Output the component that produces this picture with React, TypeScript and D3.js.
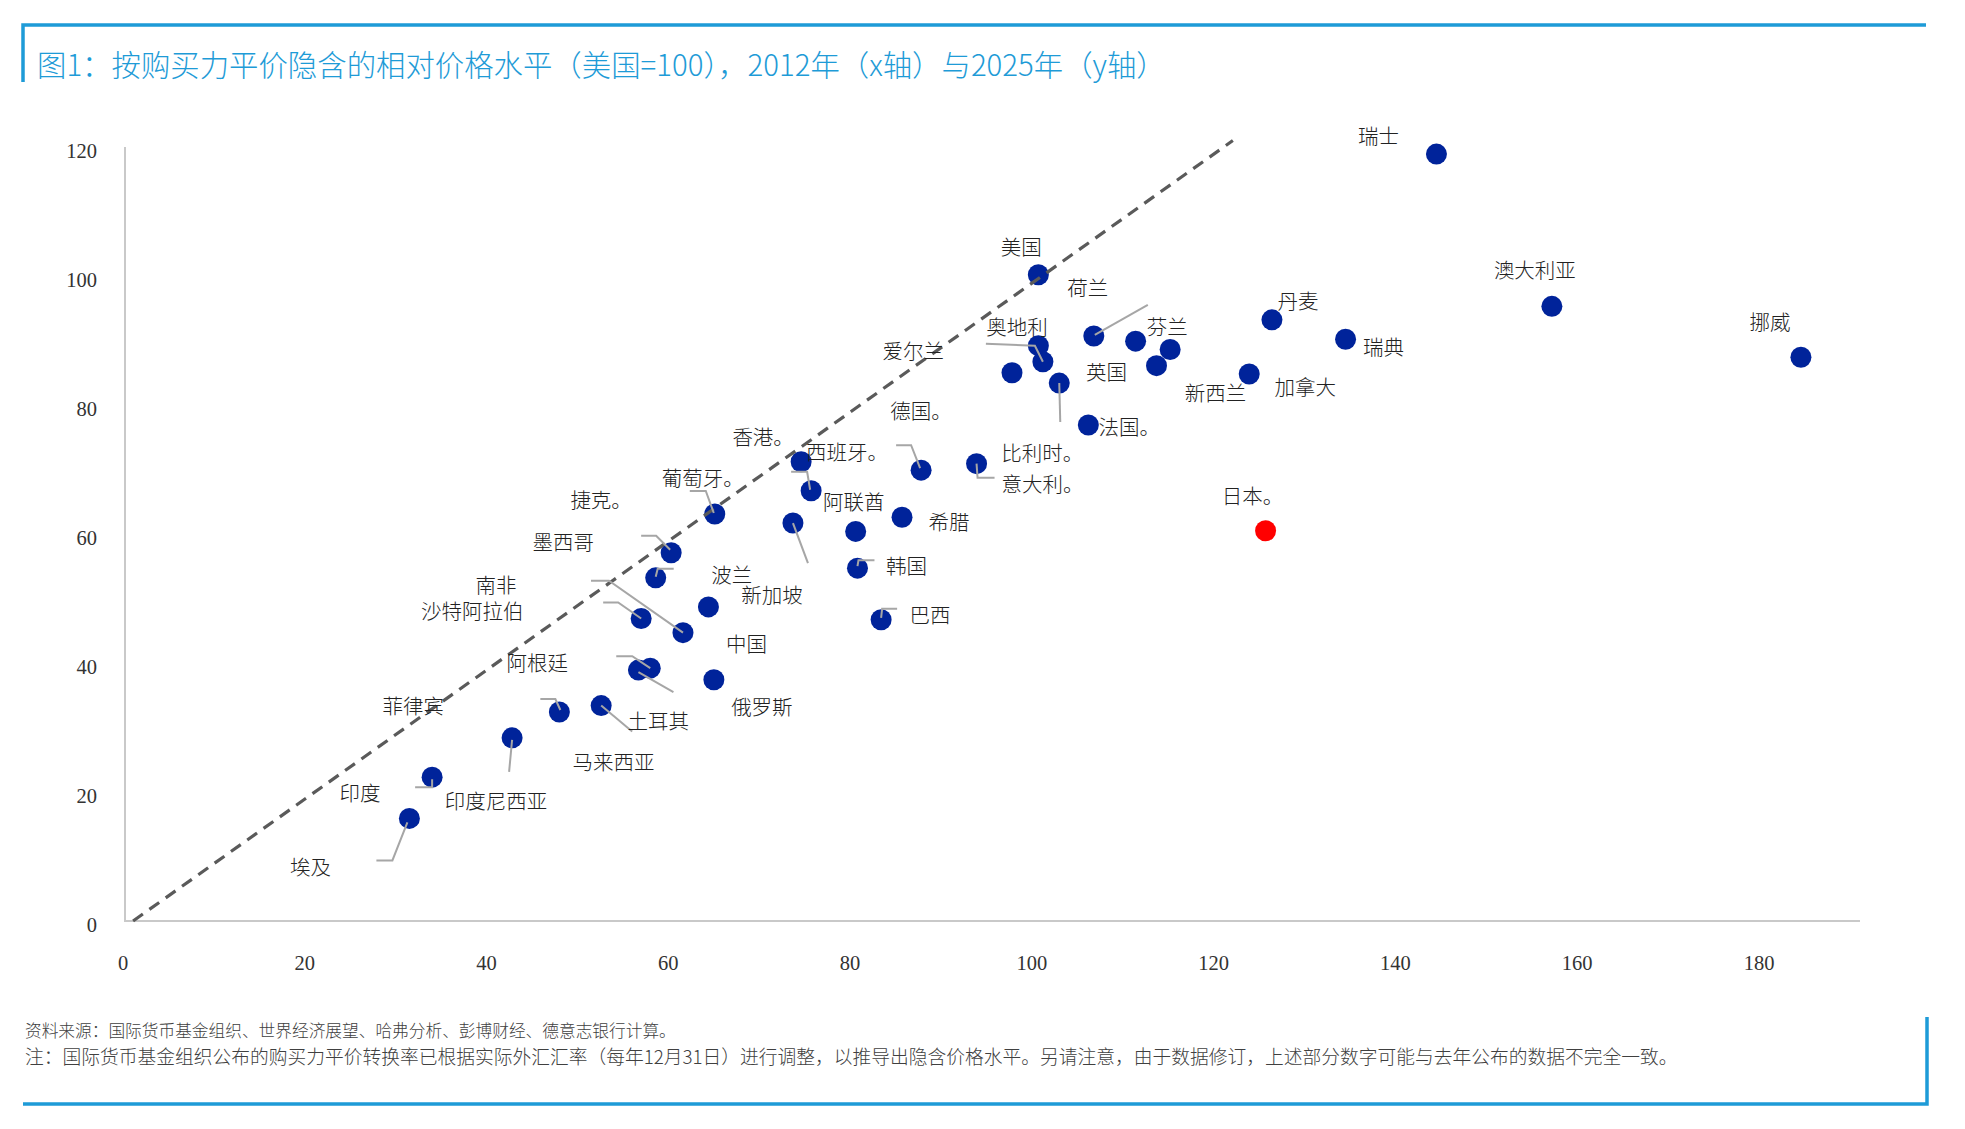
import React from 'react'
import * as d3 from 'd3'

// 标签文字（含原图中的“。”）
const countries = [
  '瑞士', '澳大利亚', '挪威', '丹麦', '瑞典', '加拿大', '日本。', '美国',
  '荷兰', '英国', '芬兰', '新西兰', '爱尔兰', '奥地利', '德国。', '比利时。',
  '法国。', '意大利。', '西班牙。', '香港。', '捷克。', '葡萄牙。', '新加坡', '阿联酋',
  '希腊', '韩国', '墨西哥', '波兰', '中国', '沙特阿拉伯', '南非', '巴西',
  '马来西亚', '阿根廷', '俄罗斯', '土耳其', '菲律宾', '印度尼西亚', '印度', '埃及'
]

// x: 2012年价格水平（美国=100）
const price2012 = [
  144.4, 157.1, 184.5, 126.3, 134.4, 123.8, 125.6, 100.6,
  106.7, 111.3, 115.1, 113.6, 100.6, 101.1, 97.7, 102.9,
  106.1, 93.8, 87.7, 74.5, 75.6, 65.0, 73.6, 80.5,
  85.6, 80.7, 60.2, 58.5, 64.3, 56.9, 61.5, 83.3,
  56.6, 57.9, 64.9, 52.5, 47.9, 42.7, 33.9, 31.4
]

// y: 2025年价格水平（美国=100）
const price2025 = [
  118.9, 95.3, 87.4, 93.2, 90.2, 84.8, 60.5, 100.2,
  90.7, 89.9, 88.6, 86.1, 89.2, 86.7, 85.0, 83.4,
  76.9, 70.9, 69.9, 71.2, 66.7, 63.1, 61.7, 60.4,
  62.6, 54.7, 57.1, 53.2, 48.7, 46.9, 44.7, 46.7,
  38.9, 39.2, 37.4, 33.4, 32.4, 28.4, 22.3, 15.9
]

const highlighted = ['日本。']

const xTicks = [0, 20, 40, 60, 80, 100, 120, 140, 160, 180]
const yTicks = [0, 20, 40, 60, 80, 100, 120]

// 45度参考线
const refLine2012 = [1, 122]
const refLine2025 = [0, 121]

const title = '图1：按购买力平价隐含的相对价格水平（美国=100），2012年（x轴）与2025年（y轴）'
const sourceNote = '资料来源：国际货币基金组织、世界经济展望、哈弗分析、彭博财经、德意志银行计算。'
const footNote = '注：国际货币基金组织公布的购买力平价转换率已根据实际外汇汇率（每年12月31日）进行调整，以推导出隐含价格水平。另请注意，由于数据修订，上述部分数字可能与去年公布的数据不完全一致。'

// label placement (px offset from the dot) and leader lines, as laid out in the original
const labelLayout: Record<string, { dx: number, dy: number, leader?: number[][] }> = {
  '瑞士': { dx: -58, dy: -19 },
  '澳大利亚': { dx: -17, dy: -37 },
  '挪威': { dx: -31, dy: -36 },
  '丹麦': { dx: 26, dy: -20 },
  '瑞典': { dx: 38, dy: 7 },
  '加拿大': { dx: 56, dy: 12 },
  '日本。': { dx: -13, dy: -36 },
  '美国': { dx: -17, dy: -29 },
  '荷兰': { dx: -6, dy: -49, leader: [[1, -1], [54, -31]] },
  '英国': { dx: -29, dy: 30 },
  '芬兰': { dx: -3, dy: -24 },
  '新西兰': { dx: 59, dy: 26 },
  '爱尔兰': { dx: -125, dy: 4 },
  '奥地利': { dx: -26, dy: -36, leader: [[-57, -18], [-8, -16], [0, 0]] },
  '德国。': { dx: -91, dy: 37 },
  '比利时。': { dx: -17, dy: 69, leader: [[0, 0], [1, 39]] },
  '法国。': { dx: 41, dy: 1 },
  '意大利。': { dx: 66, dy: 19, leader: [[0, 0], [1, 14], [18, 14]] },
  '西班牙。': { dx: -74, dy: -19, leader: [[-25, -25], [-10, -25], [-1, -2]] },
  '香港。': { dx: -38, dy: -26 },
  '捷克。': { dx: -210, dy: 8, leader: [[-20, -19], [-4, -19], [-1, -1]] },
  '葡萄牙。': { dx: -12, dy: -37, leader: [[-25, -23], [-9, -23], [-1, -1]] },
  '新加坡': { dx: -21, dy: 71, leader: [[0, 0], [15, 40]] },
  '阿联酋': { dx: -2, dy: -30 },
  '希腊': { dx: 47, dy: 4 },
  '韩国': { dx: 49, dy: -3, leader: [[0, -2], [1, -8], [17, -8]] },
  '墨西哥': { dx: -108, dy: -12, leader: [[-30, -17], [-15, -17], [-1, -3]] },
  '波兰': { dx: 76, dy: -4, leader: [[0, -1], [2, -9], [18, -9]] },
  '中国': { dx: 38, dy: 36 },
  '沙特阿拉伯': { dx: -169, dy: -8, leader: [[-38, -16], [-23, -16], [0, 0]] },
  '南非': { dx: -187, dy: -49, leader: [[-92, -52], [-74, -52], [0, 0]] },
  '巴西': { dx: 49, dy: -6, leader: [[0, -2], [1, -11], [16, -11]] },
  '马来西亚': { dx: -25, dy: 91, leader: [[0, 2], [35, 22]] },
  '阿根廷': { dx: -113, dy: -6, leader: [[-34, -12], [-18, -12], [0, 0]] },
  '俄罗斯': { dx: 48, dy: 26 },
  '土耳其': { dx: 57, dy: 14, leader: [[0, 0], [31, 26]] },
  '菲律宾': { dx: -146, dy: -7, leader: [[-19, -13], [-4, -13], [1, -2]] },
  '印度尼西亚': { dx: -16, dy: 62, leader: [[0, 2], [-3, 34]] },
  '印度': { dx: -72, dy: 15, leader: [[-17, 10], [0, 10], [0, 2]] },
  '埃及': { dx: -99, dy: 48, leader: [[-33, 42], [-17, 42], [-2, 4]] }
}

const width = 1965
const height = 1129
const frameBlue = '#1e9bd7'
const numFont = '"Liberation Serif", "Noto Sans CJK SC", serif'
const cjkFont = '"Noto Sans CJK SC", "Liberation Sans", sans-serif'

function drawChart(svgRef: React.RefObject<SVGSVGElement>) {
  const svg = d3.select(svgRef.current)
    .attr('width', width)
    .attr('height', height)
    .attr('viewBox', [0, 0, width, height])

  svg.selectAll('*').remove()

  const x = d3.scaleLinear().domain([0, 191]).range([124, 1860])
  const y = d3.scaleLinear().domain([0, 120]).range([921, 147])

  // frame
  const frame = svg.append('g')
    .attr('stroke', frameBlue)
    .attr('stroke-width', 3.5)
    .attr('fill', 'none')
  frame.append('path').attr('d', 'M23,82 V25 H1926')
  frame.append('path').attr('d', 'M23,1104 H1927 V1017')

  svg.append('text')
    .attr('x', 37)
    .attr('y', 63)
    .attr('dominant-baseline', 'central')
    .attr('font-family', cjkFont)
    .attr('font-weight', 300)
    .attr('font-size', 29.4)
    .attr('fill', frameBlue)
    .text(title)

  // axes
  svg.append('line')
    .attr('x1', x(0) + 1).attr('x2', x(0) + 1)
    .attr('y1', y(120)).attr('y2', y(0))
    .attr('stroke', '#c9c9c9').attr('stroke-width', 2)
  svg.append('line')
    .attr('x1', x(0)).attr('x2', x(191))
    .attr('y1', y(0)).attr('y2', y(0))
    .attr('stroke', '#c9c9c9').attr('stroke-width', 2)

  svg.append('g')
    .attr('font-family', numFont)
    .attr('font-size', 20.5)
    .attr('fill', '#333')
    .selectAll('text')
    .data(yTicks)
    .join('text')
      .attr('x', 97)
      .attr('y', d => y(d) + 4)
      .attr('text-anchor', 'end')
      .attr('dominant-baseline', 'central')
      .text(d => d)

  svg.append('g')
    .attr('font-family', numFont)
    .attr('font-size', 20.5)
    .attr('fill', '#333')
    .selectAll('text')
    .data(xTicks)
    .join('text')
      .attr('x', d => x(d) - 1)
      .attr('y', 963)
      .attr('text-anchor', 'middle')
      .attr('dominant-baseline', 'central')
      .text(d => d)

  const points = countries.map((name, i) => ({ name, px: x(price2012[i]), py: y(price2025[i]) }))

  // dots
  svg.append('g')
    .selectAll('circle')
    .data(points)
    .join('circle')
      .attr('cx', d => d.px)
      .attr('cy', d => d.py)
      .attr('r', 10.5)
      .attr('fill', d => highlighted.includes(d.name) ? '#ff0000' : '#00239a')

  // 45 degree line
  const diag = d3.line<number>()
    .x(d => x(refLine2012[d]))
    .y(d => y(refLine2025[d]))
  svg.append('path')
    .attr('d', diag([0, 1]))
    .attr('fill', 'none')
    .attr('stroke', '#5a5a5a')
    .attr('stroke-width', 3.2)
    .attr('stroke-dasharray', '12 8')

  // leader lines
  const leader = d3.line()
  svg.append('g')
    .attr('fill', 'none')
    .attr('stroke', '#a6a6a6')
    .attr('stroke-width', 2)
    .selectAll('path')
    .data(points.filter(d => labelLayout[d.name] && labelLayout[d.name].leader))
    .join('path')
      .attr('d', d => leader(labelLayout[d.name].leader!.map(([dx, dy]) => [d.px + dx, d.py + dy] as [number, number])))

  // labels
  svg.append('g')
    .attr('font-family', cjkFont)
    .attr('font-weight', 300)
    .attr('font-size', 20.5)
    .attr('fill', '#222')
    .selectAll('text')
    .data(points)
    .join('text')
      .attr('x', d => d.px + (labelLayout[d.name]?.dx ?? 0))
      .attr('y', d => d.py + (labelLayout[d.name]?.dy ?? 0))
      .attr('text-anchor', 'middle')
      .attr('dominant-baseline', 'central')
      .text(d => d.name)

  // notes
  svg.append('g')
    .attr('font-family', cjkFont)
    .attr('font-weight', 300)
    .attr('fill', '#404040')
    .selectAll('text')
    .data([sourceNote, footNote])
    .join('text')
      .attr('x', 25)
      .attr('y', (d, i) => 1030 + i * 25)
      .attr('font-size', (d, i) => i === 0 ? 16.7 : 18.75)
      .attr('dominant-baseline', 'central')
      .text(d => d)

  return svg.node()
}

const App: React.FunctionComponent = () => {
  const svg = React.useRef<SVGSVGElement>(null)

  React.useEffect(() => {
    drawChart(svg)
  }, [svg])

  return (
    <div id="chart" style={{ position: 'absolute', left: 0, top: 0, background: '#fff' }}>
      <svg ref={svg} style={{ display: 'block' }} />
    </div>
  )
}

export default App
